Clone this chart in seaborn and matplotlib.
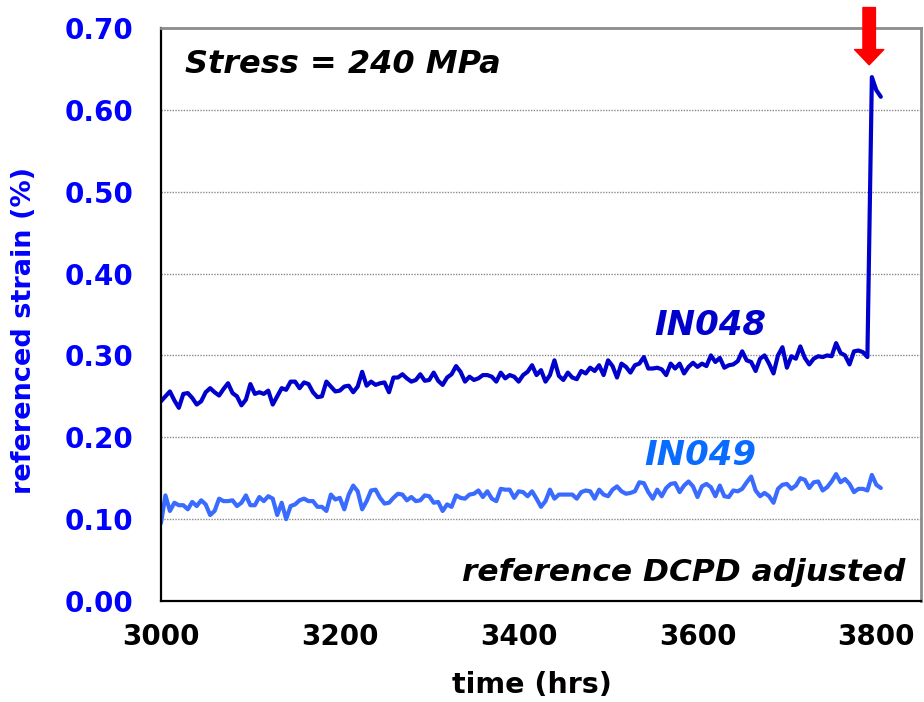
import numpy as np
import pandas as pd
import matplotlib
matplotlib.use("Agg")
import matplotlib.pyplot as plt
from matplotlib.ticker import MultipleLocator, FormatStrFormatter
import seaborn as sns

# referenced strain (%) read every 5 hrs, starting at 3000 hrs
in048 = [
    0.244, 0.250, 0.256, 0.245, 0.236, 0.253, 0.254, 0.248, 0.240, 0.244,
    0.255, 0.260, 0.255, 0.251, 0.259, 0.266, 0.254, 0.250, 0.239, 0.246,
    0.265, 0.253, 0.255, 0.253, 0.257, 0.240, 0.250, 0.260, 0.258, 0.268,
    0.268, 0.260, 0.267, 0.265, 0.255, 0.249, 0.250, 0.268, 0.262, 0.256,
    0.257, 0.262, 0.263, 0.255, 0.262, 0.280, 0.263, 0.268, 0.264, 0.266,
    0.267, 0.255, 0.273, 0.273, 0.277,
    0.272, 0.268, 0.270, 0.277, 0.269, 0.270, 0.279, 0.269, 0.264, 0.273,
    0.277, 0.287, 0.280, 0.268, 0.274, 0.270, 0.272, 0.276, 0.276, 0.274,
    0.268, 0.279, 0.272, 0.276, 0.274, 0.268, 0.276, 0.280, 0.288, 0.276,
    0.282, 0.268, 0.276, 0.294, 0.275, 0.270, 0.279, 0.273, 0.271, 0.281,
    0.278, 0.285, 0.281, 0.288, 0.276, 0.294, 0.287, 0.273, 0.290, 0.286,
    0.279, 0.288, 0.290, 0.298, 0.284,
    0.284, 0.285, 0.283, 0.276, 0.290, 0.284, 0.290, 0.278, 0.286, 0.291,
    0.286, 0.290, 0.287, 0.300, 0.292, 0.297, 0.285, 0.288, 0.289, 0.293,
    0.305, 0.294, 0.292, 0.281, 0.296, 0.300, 0.290, 0.278, 0.300, 0.310,
    0.285, 0.299, 0.296, 0.311, 0.297, 0.289, 0.296, 0.299, 0.298, 0.300,
    0.299, 0.315, 0.303, 0.300, 0.289, 0.305, 0.306, 0.304, 0.298,
    0.640, 0.624, 0.616,
]
in049 = [
    0.095, 0.129, 0.110, 0.120, 0.117, 0.117, 0.112, 0.121, 0.116, 0.123,
    0.118, 0.105, 0.110, 0.125, 0.122, 0.122, 0.123, 0.116, 0.120, 0.129,
    0.117, 0.117, 0.127, 0.122, 0.128, 0.125, 0.105, 0.120, 0.100, 0.116,
    0.118, 0.123, 0.125, 0.122, 0.122, 0.115, 0.115, 0.110, 0.130, 0.124,
    0.126, 0.112, 0.130, 0.141, 0.134, 0.112, 0.122, 0.135, 0.136, 0.126,
    0.119, 0.120, 0.126, 0.131, 0.130,
    0.123, 0.127, 0.122, 0.123, 0.129, 0.128, 0.120, 0.121, 0.110, 0.118,
    0.115, 0.129, 0.126, 0.125, 0.130, 0.131, 0.135, 0.127, 0.134, 0.125,
    0.122, 0.137, 0.136, 0.136, 0.126, 0.134, 0.133, 0.128, 0.134, 0.125,
    0.115, 0.122, 0.136, 0.125, 0.130, 0.130, 0.130, 0.130, 0.125, 0.133,
    0.135, 0.134, 0.125, 0.136, 0.130, 0.128, 0.136, 0.140, 0.134, 0.131,
    0.132, 0.134, 0.145, 0.144, 0.133,
    0.125, 0.136, 0.128, 0.138, 0.143, 0.144, 0.133, 0.141, 0.146, 0.140,
    0.127, 0.140, 0.143, 0.139, 0.128, 0.141, 0.128, 0.127, 0.135, 0.134,
    0.137, 0.145, 0.152, 0.135, 0.128, 0.132, 0.128, 0.120, 0.137, 0.142,
    0.143, 0.137, 0.141, 0.150, 0.148, 0.138, 0.145, 0.146, 0.135, 0.139,
    0.146, 0.155, 0.145, 0.149, 0.143, 0.133, 0.137, 0.137, 0.135, 0.154,
    0.142, 0.138,
]
start_hrs = 3000
step_hrs = 5
specimens = ["IN048", "IN049"]
line_colors = {"IN048": "#0000CC", "IN049": "#3A6BFF"}
label_colors = {"IN048": "#0000CC", "IN049": "#0A6CFF"}
x_ticks = [3000, 3200, 3400, 3600, 3800]
y_ticks = [0.0, 0.1, 0.2, 0.3, 0.4, 0.5, 0.6, 0.7]
failure_hrs = 3792

rows = []
for name, vals in zip(specimens, [in048, in049]):
    hrs = start_hrs + step_hrs * np.arange(len(vals))
    rows.append(pd.DataFrame({"time": hrs, "strain": vals, "specimen": name}))
df = pd.concat(rows, ignore_index=True)

sns.set_style("white")
plt.rcParams["font.family"] = ["DejaVu Sans"]
plt.rcParams["text.color"] = "black"

fig = plt.figure(figsize=(9.24, 7.02), dpi=100)
ax = fig.add_axes([0.1742, 0.1439, 0.8226, 0.8162])

sns.lineplot(data=df, x="time", y="strain", hue="specimen", palette=line_colors,
             linewidth=3.0, legend=False, ax=ax, estimator=None, sort=False)

ax.set_xlim(3000, 3850)
ax.set_ylim(0, 0.70)
ax.set_xticks(x_ticks)
ax.set_yticks(y_ticks)
ax.xaxis.set_minor_locator(MultipleLocator(50))
ax.yaxis.set_minor_locator(MultipleLocator(0.02))
ax.yaxis.set_major_formatter(FormatStrFormatter("%.2f"))

for y in y_ticks[1:-1]:
    ax.axhline(y, color="#8a8a8a", linestyle=(0, (1, 1)), linewidth=1.0, zorder=0)

ax.tick_params(axis="x", which="major", direction="out", length=7, width=1.2,
               labelsize=20, pad=9, colors="black")
ax.tick_params(axis="x", which="minor", direction="out", length=5, width=1.0, color="#333333")
ax.tick_params(axis="y", which="major", direction="out", length=7, width=1.2,
               labelsize=20, pad=13, labelcolor="#0000FF", color="black")
ax.tick_params(axis="y", which="minor", direction="inout", length=10, width=1.0, color="#333333")
for lab in ax.get_xticklabels() + ax.get_yticklabels():
    lab.set_fontweight("bold")

ax.set_xlabel("time (hrs)", fontsize=20.5, fontweight="bold", color="black")
ax.set_ylabel("referenced strain (%)", fontsize=19.5, fontweight="bold", color="#0000FF")
ax.xaxis.set_label_coords(0.488, -0.122)
ax.yaxis.set_label_coords(-0.163, 0.473)

for side in ["left", "bottom"]:
    ax.spines[side].set_color("black")
    ax.spines[side].set_linewidth(1.6)
for side in ["top", "right"]:
    ax.spines[side].set_color("#8c8c8c")
    ax.spines[side].set_linewidth(2.0)

ax.text(0.032, 0.937, "Stress = 240 MPa", transform=ax.transAxes, fontsize=23,
        fontweight="bold", fontstyle="italic", ha="left", va="center", color="black")
ax.text(0.979, 0.049, "reference DCPD adjusted", transform=ax.transAxes, fontsize=22.5,
        fontweight="bold", fontstyle="italic", ha="right", va="center", color="black")
ax.text(3552, 0.337, "IN048", color=label_colors["IN048"], fontsize=24.5,
        fontweight="bold", fontstyle="italic", ha="left", va="center")
ax.text(3541, 0.178, "IN049", color=label_colors["IN049"], fontsize=24.5,
        fontweight="bold", fontstyle="italic", ha="left", va="center")

ax.annotate("", xy=(failure_hrs, 0.655), xytext=(failure_hrs, 0.725),
            arrowprops=dict(facecolor="#FF0000", edgecolor="#FF0000", width=9,
                            headwidth=21, headlength=11, shrink=0),
            annotation_clip=False)

fig.savefig("out.png", dpi=100)
